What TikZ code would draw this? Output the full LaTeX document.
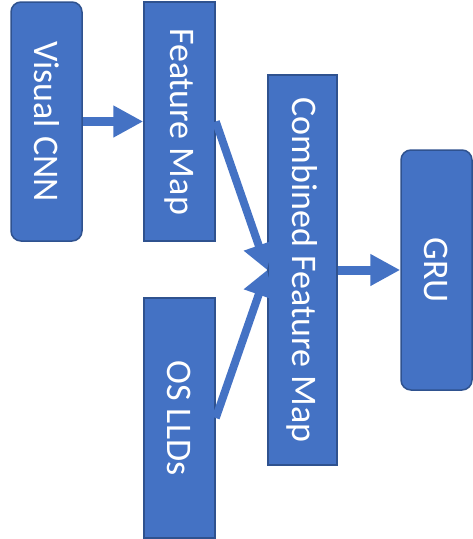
\documentclass[tikz,border=0pt]{standalone}
\usepackage{fontspec}
\setmainfont{Carlito}
\usetikzlibrary{arrows.meta}
\definecolor{boxfill}{HTML}{4472C4}
\definecolor{boxline}{HTML}{2F528F}
\tikzset{
  box/.style={draw=boxline, line width=1.5pt, fill=boxfill, text=white, inner sep=0pt,
    font=\fontsize{36}{40}\selectfont},
  rbox/.style={box, rounded corners=10pt},
  bigarrow/.style={draw=boxfill, line width=9pt, -{Triangle[length=30pt,width=30pt]}},
  diagarrow/.style={draw=boxfill, line width=8pt, -{Triangle[length=26pt,width=30pt]}},
}
\begin{document}
\begin{tikzpicture}[x=1pt,y=-1pt]
\useasboundingbox (0,0) rectangle (473,539);
\node[rbox, minimum width=71pt, minimum height=239pt] (cnn) at (46.5,121.5) {\rotatebox{-90}{Visual CNN}};
\node[box, minimum width=71pt, minimum height=239pt] (fm) at (179.5,121.5) {\rotatebox{-90}{Feature Map}};
\node[box, minimum width=71pt, minimum height=240pt] (os) at (179.5,418) {\rotatebox{-90}{OS LLDs}};
\node[box, minimum width=69pt, minimum height=390pt] (cfm) at (302.5,270) {\rotatebox{-90}{Combined Feature Map}};
\node[rbox, minimum width=71pt, minimum height=240pt] (gru) at (436.5,270) {\rotatebox{-90}{GRU}};
\draw[bigarrow] (cnn.east) -- (fm.west);
\draw[diagarrow] (fm.east) -- (cfm.west);
\draw[diagarrow] (os.east) -- (cfm.west);
\draw[bigarrow] (cfm.east) -- (gru.west);
\end{tikzpicture}
\end{document}
